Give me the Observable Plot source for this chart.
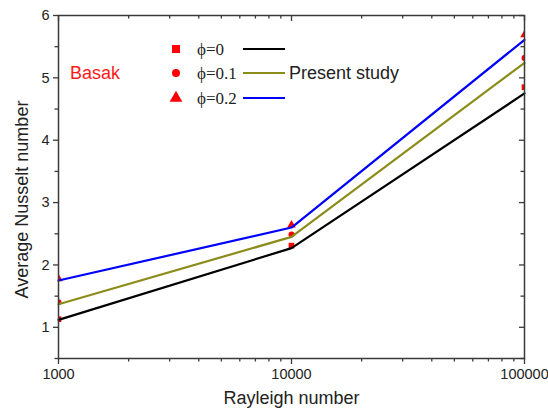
<!DOCTYPE html>
<html>
<head>
<meta charset="utf-8">
<script src="https://cdn.jsdelivr.net/npm/d3@7"></script>
<script src="https://cdn.jsdelivr.net/npm/@observablehq/plot@0.6"></script>
<style>
  html, body { margin: 0; padding: 0; background: #fff; }
  #chart { position: relative; width: 548px; height: 414px; }
</style>
</head>
<body>
<div id="chart"></div>
<script>
// ---- data ----
const rayleigh = [1000, 10000, 100000];
const seriesLabels = ["ϕ=0", "ϕ=0.1", "ϕ=0.2"];
const presentPhi0 = [1.12, 2.27, 4.75];
const presentPhi01 = [1.37, 2.45, 5.24];
const presentPhi02 = [1.75, 2.60, 5.61];
const basakPhi0 = [1.13, 2.31, 4.85];
const basakPhi01 = [1.40, 2.49, 5.32];
const basakPhi02 = [1.78, 2.64, 5.69];
const xTickValues = [1000, 10000, 100000];
const xTickLabels = ["1000", "10000", "100000"];
const yTickValues = [1, 2, 3, 4, 5, 6];
const yTickLabels = ["1", "2", "3", "4", "5", "6"];

// ---- styles ----
const lineColors = ["#000000", "#8c8c1c", "#0000ff"];
const symbols = ["square", "circle", "triangle"];
const axisColor = "#3a3a3a";

const present = [presentPhi0, presentPhi01, presentPhi02];
const basak = [basakPhi0, basakPhi01, basakPhi02];
const lineData = present.flatMap((vals, s) => vals.map((v, i) => ({s, ra: rayleigh[i], nu: v})));
const dotData = basak.flatMap((vals, s) => vals.map((v, i) => ({s, ra: rayleigh[i], nu: v})));

const xMinor = [];
for (const d of [1000, 10000]) for (let k = 2; k <= 9; k++) xMinor.push(d * k);
const yMinor = d3.range(0.5, 6, 1);

const W = 548, H = 414, mL = 58, mR = 24, mT = 15, mB = 56;
const innerW = W - mL - mR, innerH = H - mT - mB;

const plot = Plot.plot({
  width: W, height: H,
  marginLeft: mL, marginRight: mR, marginTop: mT, marginBottom: mB,
  style: {fontFamily: "Liberation Sans, Arial, sans-serif", fontSize: "14px", color: "#222", background: "#fff"},
  x: {type: "log", domain: [1000, 100000]},
  y: {domain: [0.5, 6]},
  marks: [
    // bottom axis (outward)
    Plot.axisX({ticks: xTickValues, tickSize: 6, text: null, label: null, stroke: axisColor, strokeWidth: 1.3}),
    Plot.text(xTickValues, {x: d => d, text: d => xTickLabels[xTickValues.indexOf(d)], frameAnchor: "bottom", dy: 20, fontSize: 14.5, fill: "#222"}),
    Plot.axisX({ticks: xMinor, tickSize: 3.5, text: null, label: null, stroke: axisColor, strokeWidth: 1.3}),
    // left axis (outward)
    Plot.axisY({ticks: yTickValues, tickSize: 5, tickPadding: 4, tickFormat: d => yTickLabels[yTickValues.indexOf(d)], label: null, stroke: axisColor, strokeWidth: 1.3, fontSize: 14.5}),
    Plot.axisY({ticks: yMinor, tickSize: 3.5, text: null, label: null, stroke: axisColor, strokeWidth: 1.3}),
    // top inward ticks
    Plot.ruleX(xTickValues, {x: d => d, insetBottom: innerH - 6, stroke: axisColor, strokeWidth: 1.3}),
    Plot.ruleX(xMinor, {x: d => d, insetBottom: innerH - 3.5, stroke: axisColor, strokeWidth: 1.3}),
    // right inward ticks
    Plot.ruleY(yTickValues, {y: d => d, insetLeft: innerW - 5, stroke: axisColor, strokeWidth: 1.3}),
    Plot.ruleY(yMinor, {y: d => d, insetLeft: innerW - 3.5, stroke: axisColor, strokeWidth: 1.3}),
    // data
    Plot.dot(dotData, {x: "ra", y: "nu", symbol: d => symbols[d.s], r: d => d.s === 1 ? 4 : 4.6, fill: "#ff0000", stroke: "none", clip: true}),
    Plot.line(lineData, {x: "ra", y: "nu", z: "s", stroke: d => lineColors[d.s], strokeWidth: 2.2}),
    Plot.frame({stroke: axisColor, strokeWidth: 1.5}),
    // axis titles
    Plot.text(["Rayleigh number"], {text: d => d, frameAnchor: "bottom", dy: 45, fontSize: 18, fill: "#222"}),
    Plot.text(["Average Nusselt number"], {text: d => d, frameAnchor: "left", textAnchor: "middle", dx: -36, dy: 12.5, rotate: -90, fontSize: 18, fill: "#222"})
  ],
  symbol: {type: "identity"},
  color: {type: "identity"}
});

document.getElementById("chart").appendChild(plot);

// ---- legend (inside plot area) ----
const svg = d3.select(plot);
const g = svg.append("g");
const rowY = [49, 73, 98];
const symMap = {square: d3.symbolSquare, circle: d3.symbolCircle, triangle: d3.symbolTriangle};
const symSize = [64, 50, 70];
seriesLabels.forEach((lab, i) => {
  g.append("path")
    .attr("d", d3.symbol(symMap[symbols[i]], symSize[i])())
    .attr("transform", `translate(176,${rowY[i]})`)
    .attr("fill", "#ff0000");
  g.append("text")
    .attr("x", 197).attr("y", rowY[i]).attr("dy", "0.35em")
    .style("font-family", "'Liberation Serif', 'Times New Roman', serif")
    .style("font-size", "17px").style("text-anchor", "start").style("fill", "#222")
    .text(lab);
  g.append("line")
    .attr("x1", 243).attr("x2", 285).attr("y1", rowY[i]).attr("y2", rowY[i])
    .attr("stroke", lineColors[i]).attr("stroke-width", 2.2);
});
g.append("text")
  .attr("x", 289).attr("y", 73).attr("dy", "0.35em")
  .style("font-family", "'Liberation Sans', Arial, sans-serif")
  .style("font-size", "18px").style("text-anchor", "start").style("fill", "#222")
  .text("Present study");
g.append("text")
  .attr("x", 70).attr("y", 73).attr("dy", "0.35em")
  .style("font-family", "'Liberation Sans', Arial, sans-serif")
  .style("font-size", "18px").style("text-anchor", "start").style("fill", "#ff1a1a")
  .text("Basak");
</script>
</body>
</html>
